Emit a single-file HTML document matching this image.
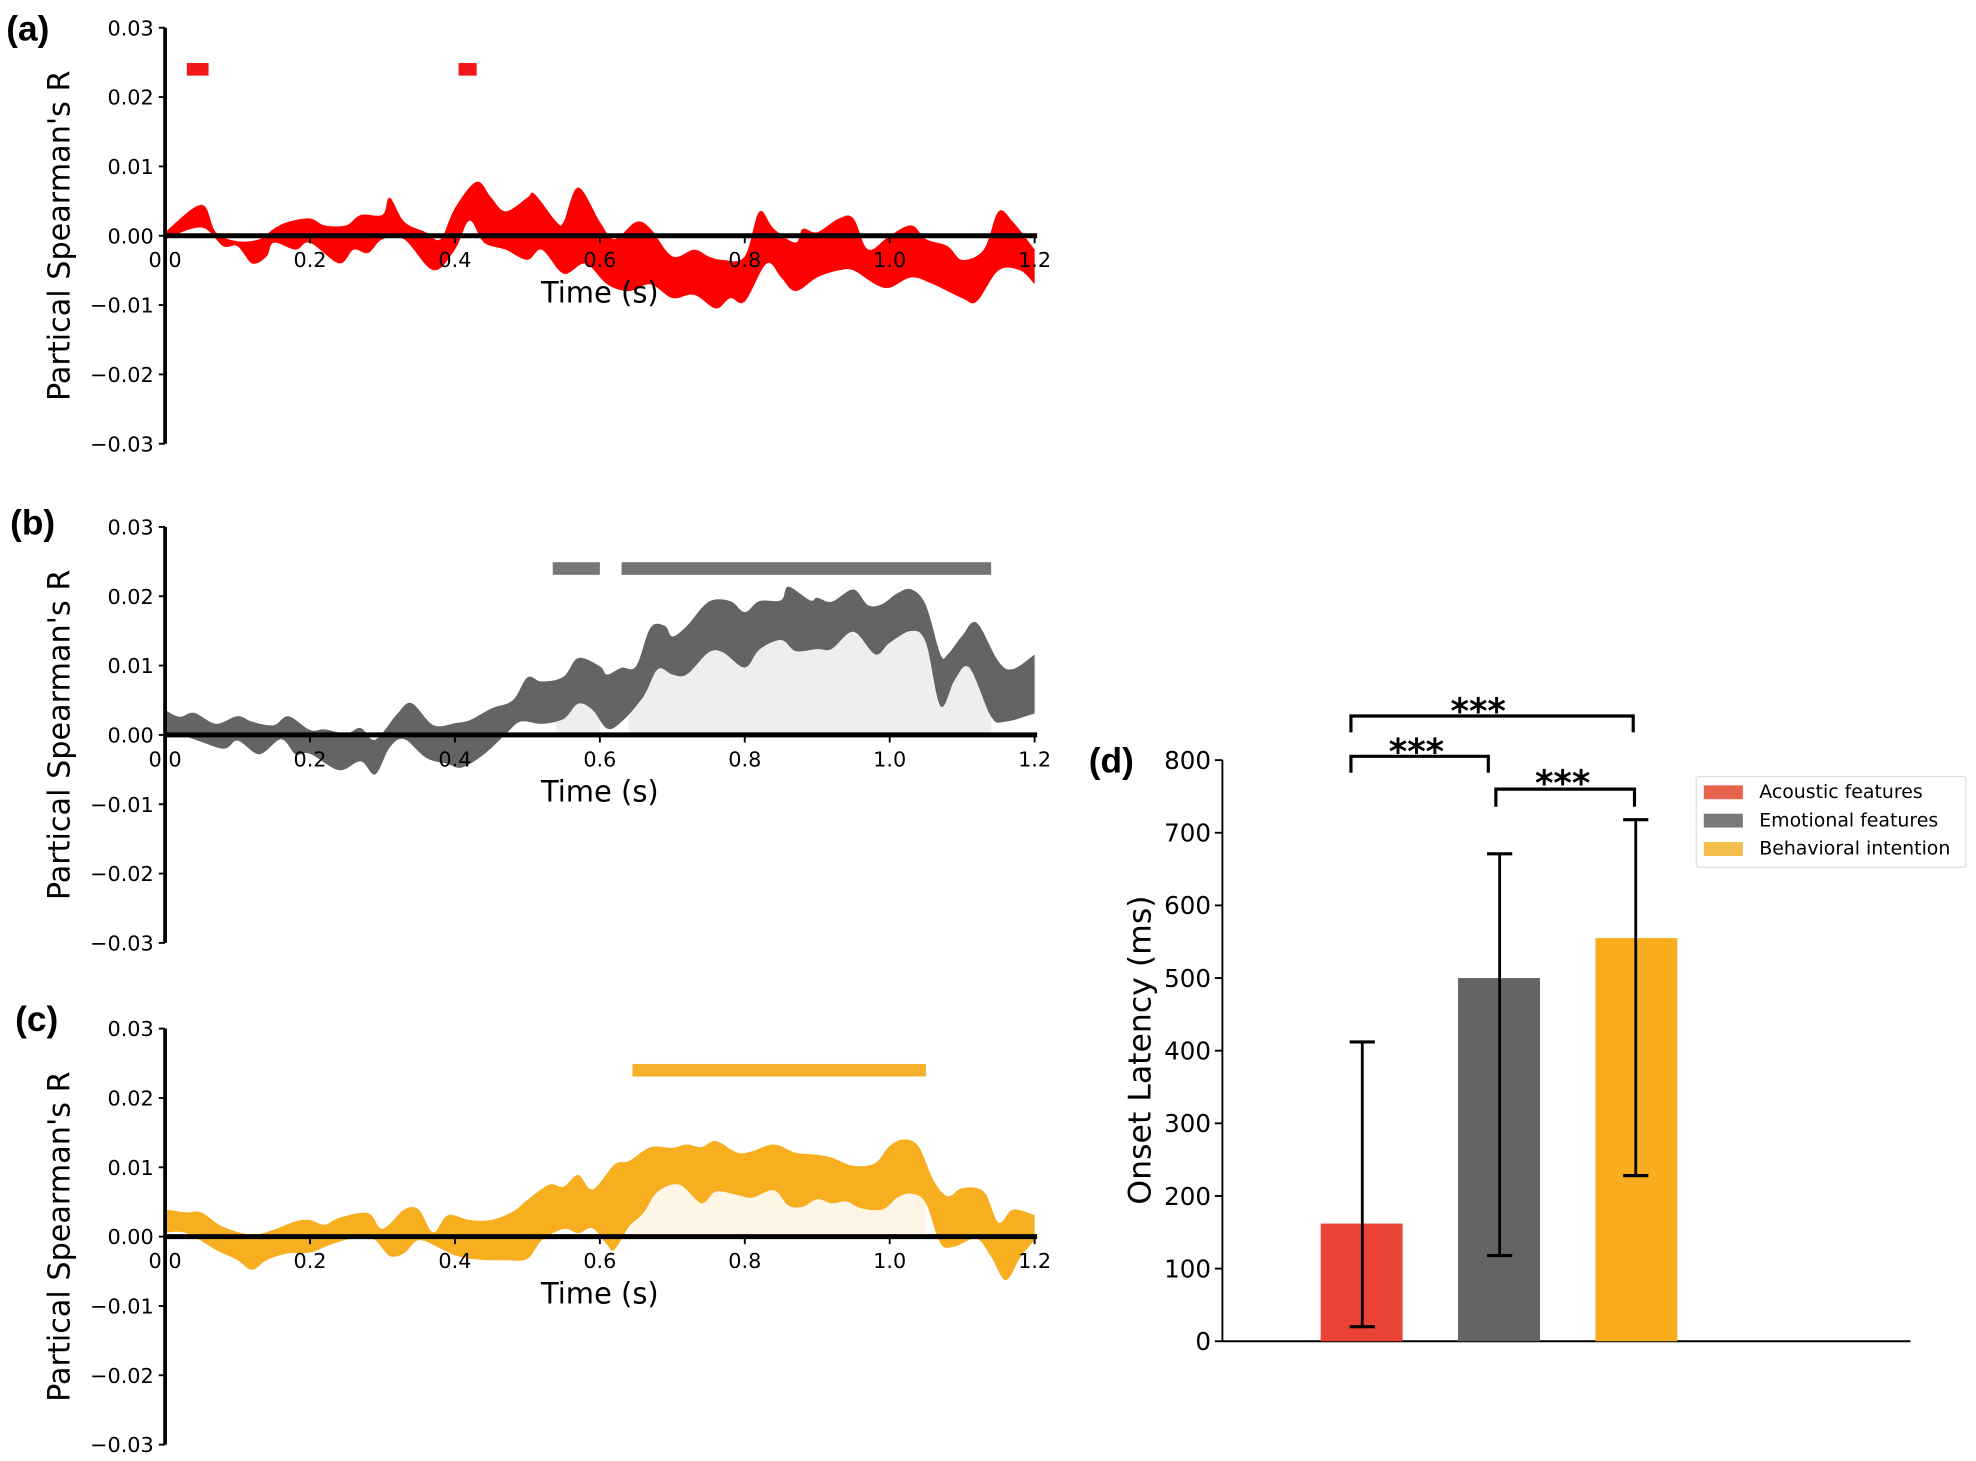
<!DOCTYPE html>
<html><head><meta charset="utf-8"><style>
html,body{margin:0;padding:0;background:#fff;}
svg{display:block;font-family:"DejaVu Sans","Liberation Sans",sans-serif;}
</style></head><body>
<svg id="s" width="1976" height="1461" viewBox="0 0 1568 1159" preserveAspectRatio="none" xmlns="http://www.w3.org/2000/svg"></svg>
<script>
const S=document.getElementById('s');let h='';
const X0=131,PX=575,PY=5500;
function px(t){return X0+t*PX;}
const A_up=[[0,.0005],[.05,.0045],[.07,.0005],[.1,-.0008],[.13,-.0005],[.15,.001],[.17,.002],[.2,.0025],[.22,.0015],[.25,.0015],[.27,.003],[.3,.003],[.31,.0055],[.33,.002],[.36,.0005],[.38,-.0005],[.4,.004],[.43,.0078],[.45,.0055],[.47,.0035],[.5,.0055],[.51,.006],[.54,.002],[.55,.002],[.57,.007],[.6,.002],[.62,-.0005],[.65,.002],[.67,.001],[.7,-.003],[.73,-.002],[.75,-.003],[.77,-.0035],[.8,-.003],[.82,.0035],[.84,.001],[.87,-.001],[.88,.001],[.9,.0005],[.93,.0025],[.95,.0025],[.97,-.002],[1,0],[1.03,.0015],[1.05,-.0005],[1.08,-.0015],[1.1,-.0035],[1.13,-.002],[1.15,.0035],[1.17,.002],[1.2,-.002]];
const A_lo=[[0,-.0005],[.05,.0012],[.08,-.0015],[.1,-.0015],[.12,-.004],[.14,-.003],[.15,-.001],[.18,-.002],[.2,-.001],[.24,-.004],[.26,-.002],[.28,-.0025],[.3,-.0005],[.33,-.0005],[.37,-.005],[.4,-.002],[.42,.0022],[.44,-.001],[.47,-.002],[.5,-.0035],[.52,-.002],[.55,-.0055],[.58,-.004],[.61,-.007],[.64,-.008],[.67,-.007],[.7,-.009],[.73,-.0085],[.76,-.0105],[.78,-.009],[.8,-.0095],[.83,-.004],[.85,-.006],[.87,-.008],[.9,-.006],[.93,-.005],[.95,-.005],[.98,-.007],[1,-.0075],[1.03,-.006],[1.06,-.007],[1.1,-.009],[1.12,-.0095],[1.15,-.005],[1.18,-.005],[1.2,-.007]];
const B_up=[[0,.0036],[.02,.0026],[.04,.0032],[.07,.0016],[.1,.0027],[.12,.0019],[.15,.0014],[.17,.0027],[.2,.0007],[.22,.0008],[.25,.0002],[.27,.001],[.29,-.0007],[.32,.003],[.34,.0046],[.37,.0014],[.4,.0017],[.42,.0021],[.45,.0038],[.48,.005],[.5,.0083],[.52,.0077],[.55,.0084],[.57,.0111],[.6,.0099],[.61,.0087],[.63,.0097],[.65,.0099],[.67,.0155],[.69,.0157],[.7,.0142],[.72,.0157],[.75,.0192],[.78,.0193],[.8,.0177],[.82,.0193],[.85,.0194],[.86,.0214],[.89,.0194],[.9,.0198],[.92,.0192],[.95,.021],[.97,.0187],[.99,.0189],[1.01,.0204],[1.03,.021],[1.05,.0187],[1.07,.0116],[1.08,.0116],[1.1,.0143],[1.12,.0162],[1.15,.0106],[1.17,.0095],[1.2,.0116]];
const B_lo=[[0,-.0003],[.03,-.0003],[.08,-.002],[.1,-.0008],[.13,-.0028],[.16,-.0006],[.18,-.0028],[.2,-.0027],[.24,-.0051],[.27,-.0038],[.29,-.0057],[.31,-.0018],[.33,-.0006],[.36,-.0033],[.39,-.0042],[.41,-.0047],[.44,-.0028],[.47,.0001],[.49,.0019],[.52,.0016],[.55,.0023],[.57,.0045],[.59,.0036],[.61,.0009],[.63,.0019],[.66,.0055],[.68,.0095],[.7,.0087],[.72,.0087],[.75,.0119],[.77,.0119],[.8,.0097],[.82,.0123],[.85,.0137],[.87,.0121],[.9,.0124],[.92,.0124],[.95,.0149],[.98,.0116],[1,.0133],[1.03,.015],[1.05,.0133],[1.07,.0041],[1.09,.008],[1.11,.0097],[1.14,.0026],[1.16,.0019],[1.2,.0031]];
const C_up=[[0,.0039],[.03,.0035],[.05,.0035],[.08,.0014],[.12,.0003],[.15,.001],[.18,.0022],[.2,.0024],[.22,.0017],[.24,.0027],[.28,.0034],[.3,.0011],[.33,.0039],[.35,.0039],[.37,.0006],[.39,.0031],[.42,.0024],[.45,.0024],[.48,.0036],[.5,.0053],[.53,.0075],[.55,.0072],[.57,.0089],[.59,.0068],[.62,.0104],[.64,.0109],[.67,.0129],[.7,.0128],[.72,.0133],[.74,.0129],[.76,.0138],[.79,.0121],[.81,.0123],[.84,.0133],[.87,.0121],[.9,.0118],[.92,.0114],[.95,.0102],[.98,.0106],[1,.0131],[1.02,.014],[1.04,.013],[1.06,.0082],[1.08,.0058],[1.1,.007],[1.13,.0065],[1.15,.002],[1.17,.0039],[1.2,.0031]];
const C_lo=[[0,.0006],[.03,.0005],[.07,-.0019],[.1,-.0034],[.12,-.0048],[.14,-.0034],[.17,-.0024],[.2,-.0023],[.23,-.0011],[.27,0],[.29,-.0005],[.31,-.0028],[.33,-.0024],[.35,-.0005],[.38,-.0017],[.4,-.0027],[.43,-.0033],[.47,-.0034],[.5,-.0032],[.52,-.0005],[.55,.0011],[.57,.0005],[.59,.0012],[.61,-.0012],[.62,-.0019],[.64,.0014],[.66,.0034],[.68,.0065],[.71,.0075],[.74,.0048],[.76,.0065],[.79,.006],[.81,.0056],[.84,.0067],[.86,.0045],[.88,.0043],[.9,.0054],[.92,.0048],[.94,.0051],[.96,.0041],[.99,.0039],[1.01,.0056],[1.03,.0062],[1.05,.0048],[1.07,-.001],[1.09,-.0014],[1.12,-.0003],[1.14,-.0029],[1.16,-.0063],[1.18,-.003],[1.2,-.0005]];
// smooth via Catmull-Rom resampling
function smooth(arr){const out=[];for(let i=0;i<arr.length-1;i++){const p0=arr[Math.max(0,i-1)],p1=arr[i],p2=arr[i+1],p3=arr[Math.min(arr.length-1,i+2)];for(let k=0;k<6;k++){const s=k/6,s2=s*s,s3=s2*s;const f=(a,b,c,d)=>0.5*(2*b+(-a+c)*s+(2*a-5*b+4*c-d)*s2+(-a+3*b-3*c+d)*s3);out.push([f(p0[0],p1[0],p2[0],p3[0]),f(p0[1],p1[1],p2[1],p3[1])]);}}out.push(arr[arr.length-1]);return out;}
function interp(arr,t){for(let i=0;i<arr.length-1;i++){if(t>=arr[i][0]&&t<=arr[i+1][0]){const f=(t-arr[i][0])/(arr[i+1][0]-arr[i][0]||1);return arr[i][1]+f*(arr[i+1][1]-arr[i][1]);}}return arr[arr.length-1][1];}
function band(up,lo,y0,col){up=smooth(up);lo=smooth(lo);let d='M'+up.map(p=>px(p[0]).toFixed(1)+','+(y0-p[1]*PY).toFixed(1)).join('L');d+='L'+lo.slice().reverse().map(p=>px(p[0]).toFixed(1)+','+(y0-p[1]*PY).toFixed(1)).join('L')+'Z';return `<path d="${d}" fill="${col}"/>`;}
function light(lo,y0,t1,t2,col){lo=smooth(lo);let pts=[];for(let t=t1;t<=t2+1e-9;t+=0.004){pts.push([t,Math.max(0,interp(lo,t))]);}let d=`M${px(t1)},${y0}`+pts.map(p=>'L'+px(p[0]).toFixed(1)+','+(y0-p[1]*PY).toFixed(1)).join('')+`L${px(t2)},${y0}Z`;return `<path d="${d}" fill="${col}"/>`;}
function axes(y0,lab,ly,lx){let s='';const top=y0-165,bot=y0+165;
s+=`<line x1="${X0}" y1="${top}" x2="${X0}" y2="${bot}" stroke="#000" stroke-width="3"/>`;
const yl=['0.03','0.02','0.01','0.00','\u22120.01','\u22120.02','\u22120.03'];
for(let i=0;i<7;i++){const y=top+i*55;s+=`<line x1="${X0-5}" y1="${y}" x2="${X0}" y2="${y}" stroke="#000" stroke-width="1.5"/><text x="${X0-9}" y="${y+6}" font-size="16.5" text-anchor="end">${yl[i]}</text>`;}
s+=`<line x1="${X0}" y1="${y0}" x2="${px(1.2)+2}" y2="${y0}" stroke="#000" stroke-width="4"/>`;
for(let i=0;i<=6;i++){const x=px(i*0.2);s+=`<line x1="${x}" y1="${y0}" x2="${x}" y2="${y0+6}" stroke="#000" stroke-width="1.5"/><text x="${x}" y="${y0+25}" font-size="16.5" text-anchor="middle">${(i*0.2).toFixed(1)}</text>`;}
s+=`<text x="476" y="${y0+53}" font-size="23" text-anchor="middle">Time (s)</text>`;
s+=`<text transform="translate(55,${y0}) rotate(-90)" font-size="24" text-anchor="middle">Partical Spearman's R</text>`;
s+=`<text x="${lx}" y="${ly}" font-size="28" font-weight="bold" font-family="Liberation Sans,sans-serif">${lab}</text>`;
return s;}
function sig(y0,t1,t2,col){return `<rect x="${px(t1)}" y="${y0-0.024*PY-5}" width="${px(t2)-px(t1)}" height="10" fill="${col}"/>`;}
h+=band(A_up,A_lo,187,'#ff0000');
h+=sig(187,.03,.06,'#f01818')+sig(187,.405,.43,'#f01818');
h+=axes(187,'(a)',32,5);
h+=light(B_lo,583,.54,.6,'#eeeeee')+light(B_lo,583,.64,1.14,'#eeeeee');
h+=band(B_up,B_lo,583,'#646464');
h+=sig(583,.535,.6,'#777')+sig(583,.63,1.14,'#737373');
h+=axes(583,'(b)',424,8);
h+=light(C_lo,981,.645,1.05,'#fdf5e6');
h+=band(C_up,C_lo,981,'#f7ae1f');
h+=sig(981,.645,1.05,'#f5b12e');
h+=axes(981,'(c)',818,12);
const Y0=1064,PPU=0.57625;
function yy(v){return Y0-v*PPU;}
h+=`<line x1="970" y1="${Y0}" x2="1516" y2="${Y0}" stroke="#000" stroke-width="1.5"/><line x1="970" y1="${Y0}" x2="970" y2="603" stroke="#000" stroke-width="1.5"/>`;
for(let v=0;v<=800;v+=100){const y=yy(v);h+=`<line x1="964" y1="${y}" x2="970" y2="${y}" stroke="#000" stroke-width="1.5"/><text x="961" y="${y+7}" font-size="19.5" text-anchor="end">${v}</text>`;}
h+=`<text transform="translate(913,833) rotate(-90)" font-size="25" text-anchor="middle">Onset Latency (ms)</text>`;
h+=`<text x="864" y="613" font-size="28" font-weight="bold" font-family="Liberation Sans,sans-serif">(d)</text>`;
const bars=[[1048,162,'#ea4335',20,412,1081],[1157,500,'#646464',118,671,1190],[1266,555,'#f7ad1e',228,718,1298]];
for(const b of bars){h+=`<rect x="${b[0]}" y="${yy(b[1])}" width="65" height="${b[1]*PPU}" fill="${b[2]}"/>`;
h+=`<line x1="${b[5]}" y1="${yy(b[3])}" x2="${b[5]}" y2="${yy(b[4])}" stroke="#000" stroke-width="2.2"/><line x1="${b[5]-10}" y1="${yy(b[3])}" x2="${b[5]+10}" y2="${yy(b[3])}" stroke="#000" stroke-width="2.5"/><line x1="${b[5]-10}" y1="${yy(b[4])}" x2="${b[5]+10}" y2="${yy(b[4])}" stroke="#000" stroke-width="2.5"/>`;}
function br(x1,x2,y,d1,d2,sx,sy){return `<path d="M${x1},${y+d1}V${y}H${x2}V${y+d2}" fill="none" stroke="#000" stroke-width="2.5"/><text x="${sx}" y="${sy}" font-size="28" font-weight="bold" text-anchor="middle">***</text>`;}
h+=br(1072,1296,568,13,13,1173,574);
h+=br(1072,1181,600,13,13,1124,606);
h+=br(1187,1297,626,14,14,1240,631);
h+=`<rect x="1346" y="616" width="214" height="72" fill="#fff" stroke="#ddd" stroke-width="1" rx="2"/>`;
const lg=[['#e8634d','Acoustic features'],['#7a7a7a','Emotional features'],['#f2bd4a','Behavioral intention']];
lg.forEach((l,i)=>{const y=628+i*22.5;h+=`<rect x="1352" y="${y-5}" width="31" height="11" fill="${l[0]}"/><text x="1396" y="${y+5}" font-size="15">${l[1]}</text>`;});
S.innerHTML=h;
</script>
</body></html>
